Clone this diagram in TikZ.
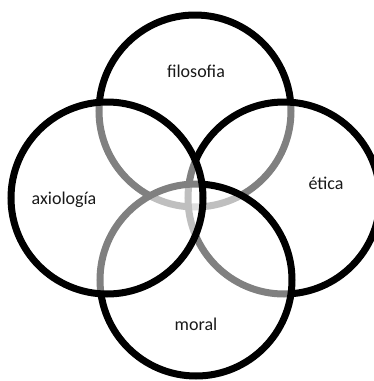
\documentclass[tikz,border=0pt]{standalone}
\usepackage{fontspec}
\setmainfont{Carlito}
\begin{document}
\begin{tikzpicture}[x=1pt,y=-1pt,
  ring/.style={circle, minimum size=192pt, inner sep=0pt, line width=7pt, draw=black, fill=white, fill opacity=0.5, draw opacity=1},
  lbl/.style={anchor=base, font=\fontsize{18}{20}\selectfont, text=black!90}]
\useasboundingbox (0,0) rectangle (374,381);
\clip (0,0) rectangle (374,381);
\node[ring] (filosofia) at (195,111) {};
\node[ring] (etica) at (284,198) {};
\node[ring] (moral) at (196,280) {};
\node[ring] (axiologia) at (107,198) {};
\node[lbl] (tf) at (196,77) {filosofia};
\node[lbl] (ta) at (64,204) {axiología};
\node[lbl] (te) at (326,189) {ética};
\node[lbl] (tm) at (196,330) {moral};
\end{tikzpicture}
\end{document}
